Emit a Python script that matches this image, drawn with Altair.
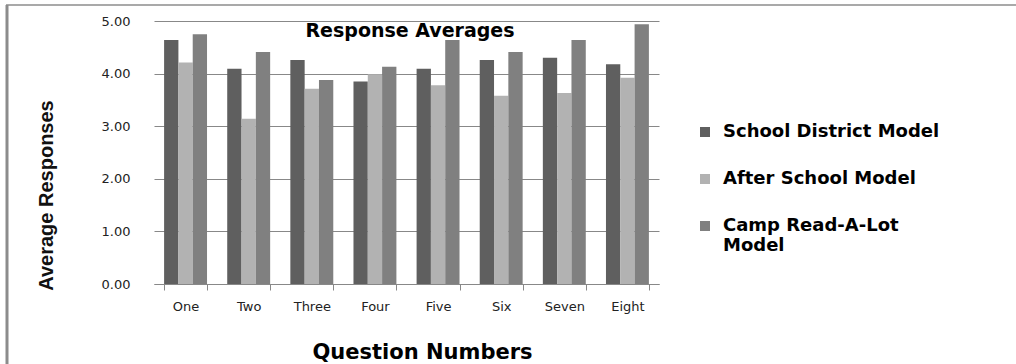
import altair as alt
import pandas as pd

questions = ["One", "Two", "Three", "Four", "Five", "Six", "Seven", "Eight"]
series_names = ["School District Model", "After School Model", "Camp Read-A-Lot Model"]
school_district = [4.64, 4.09, 4.26, 3.85, 4.09, 4.26, 4.30, 4.18]
after_school = [4.21, 3.14, 3.71, 3.99, 3.78, 3.58, 3.63, 3.92]
camp_read = [4.75, 4.41, 3.88, 4.13, 4.64, 4.41, 4.64, 4.94]
colors = ["#5f5f5f", "#b2b2b2", "#808080"]
y_ticks = [0, 1, 2, 3, 4, 5]
chart_title = "Response Averages"
x_title = "Question Numbers"
y_title = "Average Responses"

rows = []
for name, vals in zip(series_names, [school_district, after_school, camp_read]):
    for q, v in zip(questions, vals):
        rows.append({"question": q, "series": name, "value": v})
df = pd.DataFrame(rows)

W, H = 513, 263

bars = alt.Chart(df).mark_bar().encode(
    x=alt.X("question:N", sort=questions,
            scale=alt.Scale(range=[8, W], paddingInner=0.32, paddingOuter=0.16),
            axis=alt.Axis(title=x_title, labelAngle=0, tickBand="extent", grid=False,
                          domainColor="#888888", tickColor="#888888", tickSize=6,
                          labelPadding=10, labelFont="DejaVu Sans", labelFontSize=13,
                          labelColor="#222222",
                          titleFont="DejaVu Sans", titleFontSize=21, titleFontWeight="bold",
                          titleColor="#000000", titleX=276, titleY=68,
                          titleBaseline="middle", titleAlign="center")),
    xOffset=alt.XOffset("series:N", sort=series_names),
    y=alt.Y("value:Q", scale=alt.Scale(domain=[0, 5]),
            axis=alt.Axis(title=y_title, values=y_ticks, format=".2f", domain=False, ticks=False,
                          gridColor="#888888", gridWidth=1.2, labelPadding=16,
                          labelFont="DejaVu Sans", labelFontSize=13, labelColor="#222222",
                          titleFont="Liberation Sans", titleFontSize=20, titleFontWeight="bold",
                          titleColor="#111111", titleX=-100, titleY=174, titleAngle=270,
                          titleBaseline="middle", titleAlign="center")),
    color=alt.Color("series:N", sort=series_names,
                    scale=alt.Scale(domain=series_names, range=colors),
                    legend=alt.Legend(title=None, orient="none", legendX=550, legendY=102,
                                      symbolType="square", symbolSize=100, symbolStrokeWidth=0,
                                      labelFont="DejaVu Sans", labelFontSize=18,
                                      labelFontWeight="bold", labelColor="#000000",
                                      labelOffset=9, labelLimit=400, rowPadding=29,
                                      labelExpr="datum.label == 'Camp Read-A-Lot Model' ? ['Camp Read-A-Lot', 'Model'] : datum.label")),
)

title_df = pd.DataFrame({"t": [chart_title]})
title_mark = alt.Chart(title_df).mark_text(
    font="DejaVu Sans", fontSize=19, fontWeight="bold", color="#000000",
    align="center", baseline="middle"
).encode(text="t:N", x=alt.value(264), y=alt.value(10))

border_df = pd.DataFrame({"k": [1]})
left_border = alt.Chart(border_df).mark_rule(color="#8c8c8c", strokeWidth=3).encode(
    x=alt.value(-139), y=alt.value(-16), y2=alt.value(400))
top_border = alt.Chart(border_df).mark_rule(color="#8c8c8c", strokeWidth=1.5).encode(
    x=alt.value(-140), x2=alt.value(1000), y=alt.value(-16))

chart = alt.layer(bars, title_mark, left_border, top_border).properties(
    width=W, height=H,
    autosize=alt.AutoSizeParams(type="none"),
    padding={"left": 146, "top": 21, "right": 1016 - 146 - W, "bottom": 364 - 21 - H},
    background="white",
).configure_view(stroke=None)

chart.save("out.html", embed_options={"renderer": "svg", "actions": False})
